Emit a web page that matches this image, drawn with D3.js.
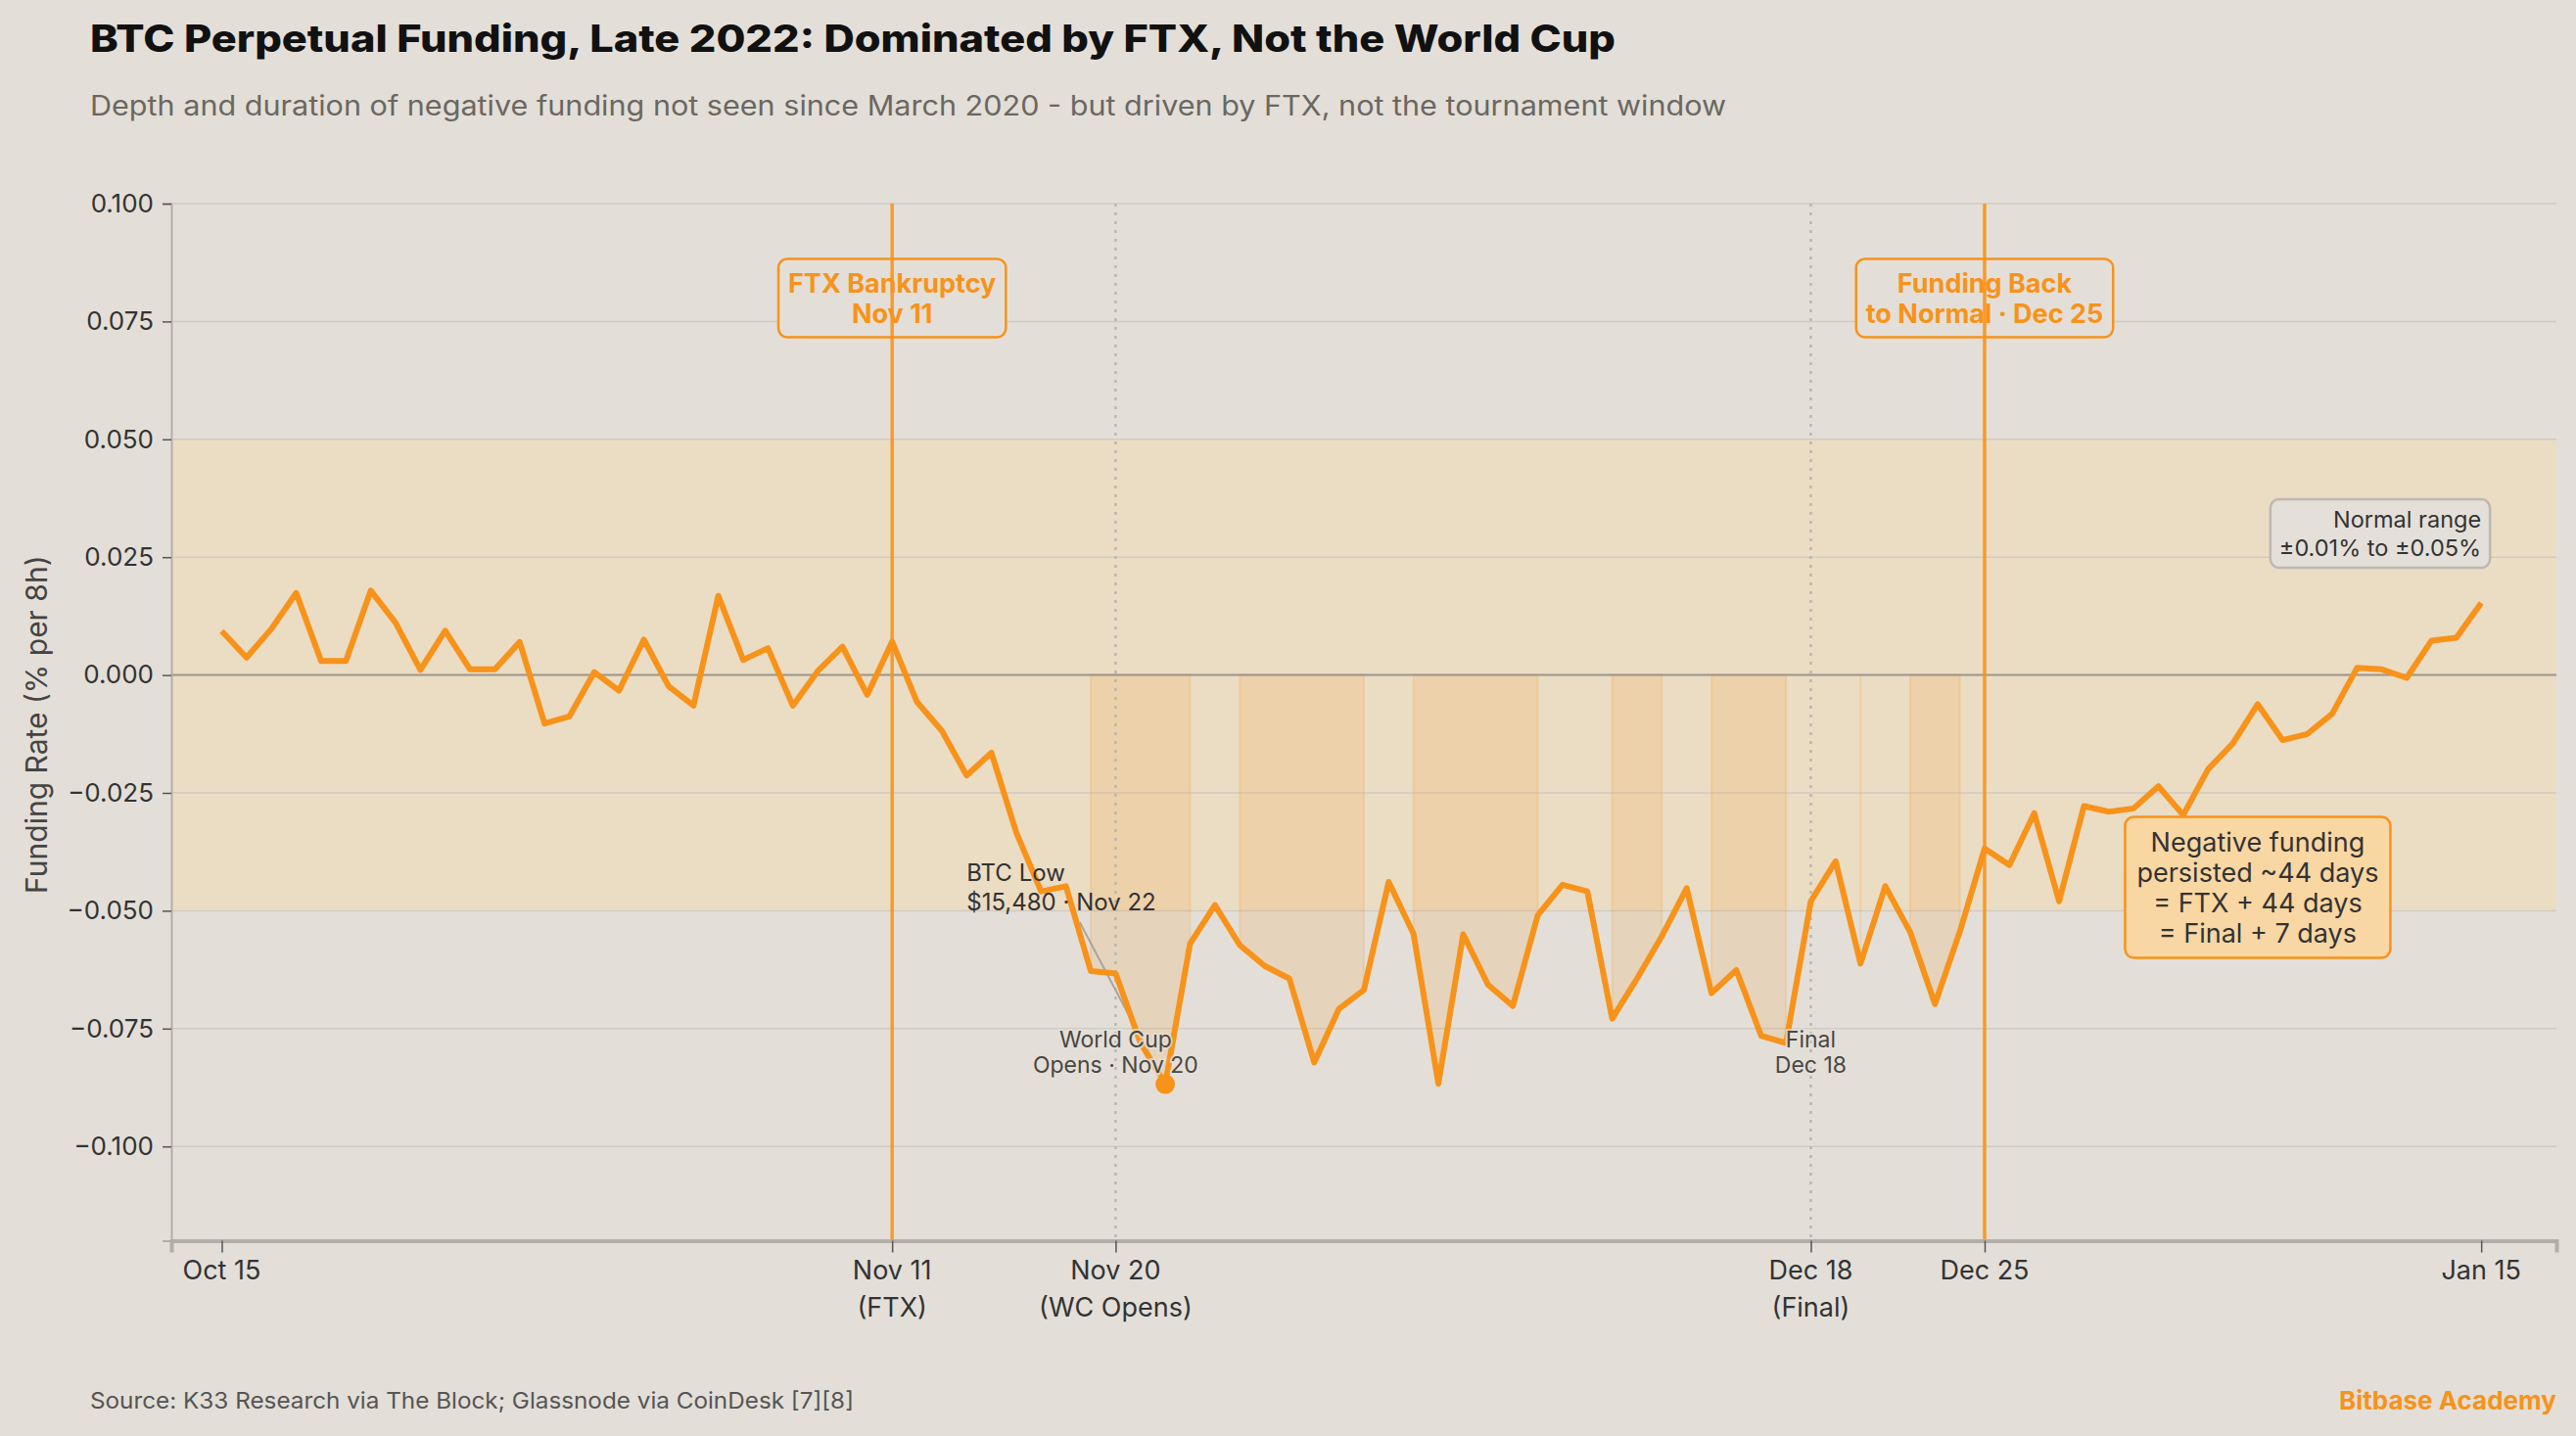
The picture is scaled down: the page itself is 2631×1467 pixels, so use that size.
<!DOCTYPE html>
<html>
<head>
<meta charset="utf-8">
<script src="https://cdn.jsdelivr.net/npm/d3@7"></script>
<style>
  body { margin: 0; background: #e3dfd8; }
  text { font-family: Inter, "Noto Sans", sans-serif; }
</style>
</head>
<body>
<script>
// daily BTC perp funding rate (% per 8h), Oct 15 2022 -> mid Jan 2023
var funding = [
  0.0093, 0.0037, 0.0098, 0.0174, 0.0030, 0.0030, 0.0179, 0.0111, 0.0011, 0.0094,
  0.0012, 0.0012, 0.0070, -0.0103, -0.0088, 0.0006, -0.0033, 0.0075, -0.0024, -0.0065,
  0.0168, 0.0032, 0.0057, -0.0065, 0.0008, 0.0060, -0.0042, 0.0071, -0.0057, -0.0118,
  -0.0213, -0.0165, -0.0334, -0.0459, -0.0448, -0.0628, -0.0633, -0.0780, -0.0868, -0.0570,
  -0.0488, -0.0573, -0.0617, -0.0644, -0.0822, -0.0708, -0.0668, -0.0439, -0.0549, -0.0867,
  -0.0550, -0.0657, -0.0702, -0.0510, -0.0445, -0.0459, -0.0729, -0.0644, -0.0554, -0.0452,
  -0.0675, -0.0626, -0.0765, -0.0781, -0.0480, -0.0395, -0.0612, -0.0448, -0.0545, -0.0698,
  -0.0545, -0.0368, -0.0403, -0.0293, -0.0480, -0.0278, -0.0290, -0.0283, -0.0236, -0.0297,
  -0.0200, -0.0145, -0.0062, -0.0138, -0.0125, -0.0082, 0.0015, 0.0012, -0.0006, 0.0073,
  0.0079, 0.0153
];

var tickIndex = [0, 27, 36, 64, 71, 91];
var tickLabels = [["Oct 15"], ["Nov 11", "(FTX)"], ["Nov 20", "(WC Opens)"], ["Dec 18", "(Final)"], ["Dec 25"], ["Jan 15"]];
var yTicks = [-0.1, -0.075, -0.05, -0.025, 0, 0.025, 0.05, 0.075, 0.1];

var normalRange = [-0.05, 0.05];
var deepThreshold = -0.05;

// event day indexes
var ftxIdx = 27, wcIdx = 36, finalIdx = 64, backIdx = 71, lowIdx = 38;

var orange = "#f7931a";
var bg = "#e3dfd8";

var svgWidth = 2631;
var svgHeight = 1467;
var margin = {top: 208, right: 20, bottom: 199.5, left: 175};
var width = svgWidth - margin.left - margin.right;
var height = svgHeight - margin.top - margin.bottom;

var svg = d3.select("body")
  .append("svg")
  .attr("width", svgWidth)
  .attr("height", svgHeight);

svg.append("rect")
  .attr("width", svgWidth)
  .attr("height", svgHeight)
  .attr("fill", bg);

var chartGroup = svg.append("g")
  .attr("transform", `translate(${margin.left}, ${margin.top})`);

var x = d3.scaleLinear().domain([-2.03, 94.03]).range([0, width]);
var y = d3.scaleLinear().domain([-0.12, 0.1]).range([height, 0]);

// normal range band
chartGroup.append("rect")
  .attr("x", 0)
  .attr("width", width)
  .attr("y", y(normalRange[1]))
  .attr("height", y(normalRange[0]) - y(normalRange[1]))
  .attr("fill", "rgb(255,214,150)")
  .attr("fill-opacity", 0.3);

// grid
chartGroup.selectAll(".grid")
  .data(yTicks)
  .enter()
  .append("line")
  .attr("x1", 0)
  .attr("x2", width)
  .attr("y1", d => y(d))
  .attr("y2", d => y(d))
  .attr("stroke", "#d0cbc3")
  .attr("stroke-width", 1.5);

// shaded runs where funding is deeper than -0.05
var runs = [];
var cur = null;
funding.forEach(function (v, i) {
  if (v < deepThreshold) {
    if (!cur) { cur = []; runs.push(cur); }
    cur.push(i);
  } else {
    cur = null;
  }
});

var area = d3.area()
  .x(i => x(i))
  .y0(y(0))
  .y1(i => y(funding[i]));

chartGroup.selectAll(".run")
  .data(runs)
  .enter()
  .append("path")
  .attr("d", area)
  .attr("fill", orange)
  .attr("fill-opacity", 0.15)
  .attr("stroke", orange)
  .attr("stroke-opacity", 0.18)
  .attr("stroke-width", 2);

// zero line
chartGroup.append("line")
  .attr("x1", 0)
  .attr("x2", width)
  .attr("y1", y(0))
  .attr("y2", y(0))
  .attr("stroke", "#9c968d")
  .attr("stroke-width", 2);

// dotted event lines
chartGroup.selectAll(".dotted")
  .data([wcIdx, finalIdx])
  .enter()
  .append("line")
  .attr("x1", d => x(d))
  .attr("x2", d => x(d))
  .attr("y1", 0)
  .attr("y2", height)
  .attr("stroke", "#bbb6ae")
  .attr("stroke-width", 2.5)
  .attr("stroke-dasharray", "3,6");

// helper for stacked lines of text
function addLines(g, lines, xPos, cy, size, lineH, anchor) {
  var t = g.append("text")
    .attr("text-anchor", anchor)
    .style("font-size", size + "px");
  var first = cy - (lines.length - 1) / 2 * lineH + 0.36 * size;
  lines.forEach(function (s, k) {
    t.append("tspan")
      .attr("x", xPos)
      .attr("y", first + k * lineH)
      .text(s);
  });
  return t;
}

function boxAround(g, t, padX, padY, fill, stroke) {
  var b = t.node().getBBox();
  g.insert("rect", "text")
    .attr("x", b.x - padX)
    .attr("y", b.y - padY)
    .attr("width", b.width + 2 * padX)
    .attr("height", b.height + 2 * padY)
    .attr("rx", 9)
    .attr("fill", fill)
    .attr("stroke", stroke)
    .attr("stroke-width", 2.5);
}

// event boxes at top
[[ftxIdx, ["FTX Bankruptcy", "Nov 11"]], [backIdx, ["Funding Back", "to Normal \u00b7 Dec 25"]]].forEach(function (ev) {
  var g = chartGroup.append("g");
  var t = addLines(g, ev[1], x(ev[0]), y(0.08), 27, 31, "middle")
    .attr("fill", orange)
    .style("font-weight", 700);
  boxAround(g, t, 10, 8, bg, orange);
});

// solid event lines (drawn over boxes)
chartGroup.selectAll(".evline")
  .data([ftxIdx, backIdx])
  .enter()
  .append("line")
  .attr("x1", d => x(d))
  .attr("x2", d => x(d))
  .attr("y1", 0)
  .attr("y2", height)
  .attr("stroke", orange)
  .attr("stroke-opacity", 0.9)
  .attr("stroke-width", 3.5);

// funding line
var line = d3.line()
  .x((d, i) => x(i))
  .y(d => y(d));

chartGroup.append("path")
  .datum(funding)
  .attr("d", line)
  .attr("fill", "none")
  .attr("stroke", orange)
  .attr("stroke-width", 6)
  .attr("stroke-linejoin", "round");

// BTC low marker
chartGroup.append("circle")
  .attr("cx", x(lowIdx))
  .attr("cy", y(funding[lowIdx]))
  .attr("r", 10)
  .attr("fill", orange);

// BTC low label + leader
var lowG = chartGroup.append("g");
var lowT = addLines(lowG, ["BTC Low", "$15,480 \u00b7 Nov 22"], x(30), y(-0.045), 24, 30, "start")
  .attr("fill", "#333");
var lb = lowT.node().getBBox();
var cx0 = lb.x + lb.width / 2, cy0 = lb.y + lb.height / 2;
var px = x(lowIdx), py = y(funding[lowIdx]);
var tt = (lb.y + lb.height + 6 - cy0) / (py - cy0);
var sx = cx0 + (px - cx0) * tt, sy = cy0 + (py - cy0) * tt;
var len = Math.hypot(px - sx, py - sy);
chartGroup.insert("line", "g")
  .attr("x1", sx)
  .attr("y1", sy)
  .attr("x2", sx + (px - sx) * (len - 14) / len)
  .attr("y2", sy + (py - sy) * (len - 14) / len)
  .attr("stroke", "#aaa59e")
  .attr("stroke-width", 2);

// world cup / final labels
[[wcIdx, ["World Cup", "Opens \u00b7 Nov 20"]], [finalIdx, ["Final", "Dec 18"]]].forEach(function (ev) {
  addLines(chartGroup, ev[1], x(ev[0]), y(-0.08), 23, 26, "middle")
    .attr("fill", "#4a4642")
    .attr("stroke", bg)
    .attr("stroke-width", 4)
    .attr("stroke-opacity", 0.8)
    .attr("paint-order", "stroke");
});

// normal range note
var nrG = chartGroup.append("g");
var nrT = addLines(nrG, ["Normal range", "\u00b10.01% to \u00b10.05%"], x(91), y(0.03), 23.5, 29, "end")
  .attr("fill", "#333");
boxAround(nrG, nrT, 9, 6, "#e4e0d9", "#bdb8b0");

// persistence note
var ngG = chartGroup.append("g");
var ngT = addLines(ngG, ["Negative funding", "persisted ~44 days", "= FTX + 44 days", "= Final + 7 days"], x(82), y(-0.045), 27, 31, "middle")
  .attr("fill", "#333");
boxAround(ngG, ngT, 12, 9, "rgba(250,214,160,0.93)", orange);

// axes
var leftAxis = d3.axisLeft(y)
  .tickValues(yTicks)
  .tickFormat(d3.format(".3f"))
  .tickSize(9)
  .tickPadding(9);

var yAxisG = chartGroup.append("g").call(leftAxis);
yAxisG.select(".domain").attr("stroke", "#b3aea7").attr("stroke-width", 2);
yAxisG.selectAll(".tick line").attr("stroke", "#555").attr("stroke-width", 1.5);
yAxisG.selectAll(".tick text")
  .attr("fill", "#333")
  .style("font-size", "26px")
  .style("font-family", "Inter, sans-serif");

var bottomAxis = d3.axisBottom(x)
  .tickValues(tickIndex)
  .tickFormat("")
  .tickSize(12);

var xAxisG = chartGroup.append("g")
  .attr("transform", `translate(0, ${height})`)
  .call(bottomAxis);
xAxisG.select(".domain").attr("stroke", "#b3aea7").attr("stroke-width", 4);
xAxisG.selectAll(".tick line").attr("stroke", "#555").attr("stroke-width", 1.5);

tickIndex.forEach(function (d, k) {
  addLines(xAxisG, tickLabels[k], x(d), 30, 27, 38, "middle")
    .attr("transform", `translate(0, ${(tickLabels[k].length - 1) * 19})`)
    .attr("fill", "#333");
});

// y label
chartGroup.append("text")
  .attr("transform", `translate(${37 - margin.left}, ${y(-0.0105)}) rotate(-90)`)
  .attr("text-anchor", "middle")
  .attr("dy", "0.35em")
  .attr("fill", "#444")
  .style("font-size", "30px")
  .text("Funding Rate (% per 8h)");

// titles
svg.append("text")
  .attr("x", 92)
  .attr("y", 53)
  .attr("fill", "#111")
  .attr("textLength", 1558)
  .attr("lengthAdjust", "spacingAndGlyphs")
  .style("font-size", "38px")
  .style("font-weight", 800)
  .text("BTC Perpetual Funding, Late 2022: Dominated by FTX, Not the World Cup");

svg.append("text")
  .attr("x", 92)
  .attr("y", 118)
  .attr("fill", "#6b6762")
  .attr("textLength", 1671)
  .attr("lengthAdjust", "spacingAndGlyphs")
  .style("font-size", "28px")
  .text("Depth and duration of negative funding not seen since March 2020 - but driven by FTX, not the tournament window");

svg.append("text")
  .attr("x", 92)
  .attr("y", 1439)
  .attr("fill", "#555")
  .attr("textLength", 780)
  .attr("lengthAdjust", "spacingAndGlyphs")
  .style("font-size", "23px")
  .text("Source: K33 Research via The Block; Glassnode via CoinDesk [7][8]");

svg.append("text")
  .attr("x", 2611)
  .attr("y", 1440)
  .attr("text-anchor", "end")
  .attr("fill", orange)
  .style("font-size", "26px")
  .style("font-weight", 700)
  .text("Bitbase Academy");
</script>
</body>
</html>
